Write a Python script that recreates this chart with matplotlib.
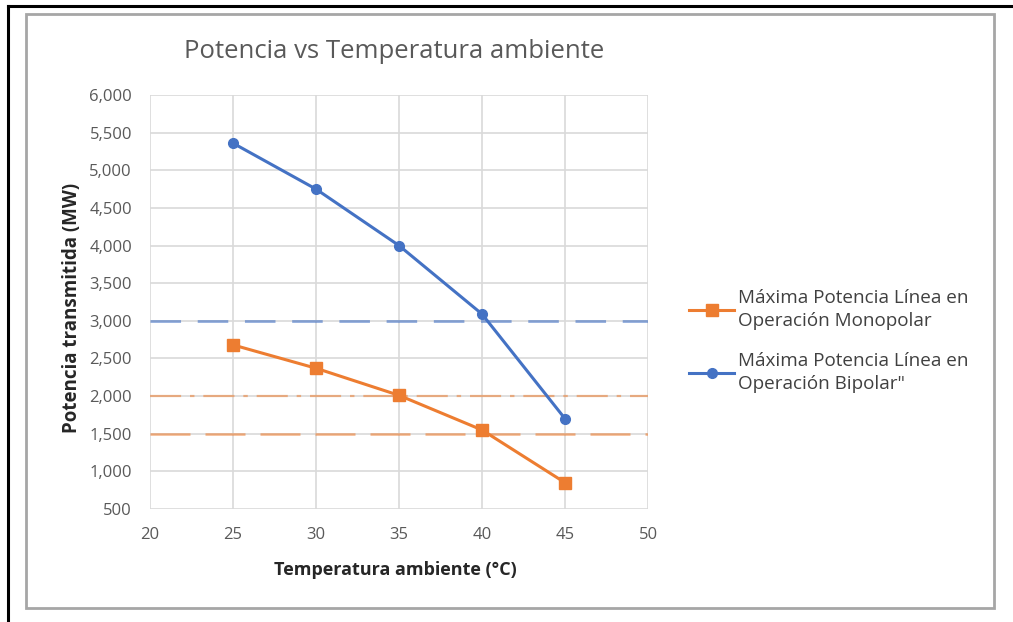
import matplotlib
matplotlib.use("Agg")
import matplotlib.pyplot as plt
from matplotlib.lines import Line2D
from matplotlib.patches import Rectangle

plt.rcParams['font.family'] = ['Open Sans', 'DejaVu Sans']

temps = [25, 30, 35, 40, 45]
monopolar = [2680, 2370, 2010, 1550, 850]
bipolar = [5360, 4750, 4000, 3090, 1700]
ref_bipolar = 3000
ref_mono_dashdot = 2000
ref_mono_dash = 1500

title = "Potencia vs Temperatura ambiente"
xlabel = "Temperatura ambiente (°C)"
ylabel = "Potencia transmitida (MW)"
label_mono = "Máxima Potencia Línea en\nOperación Monopolar"
label_bi = "Máxima Potencia Línea en\nOperación Bipolar\""

xticks = [20, 25, 30, 35, 40, 45, 50]
yticks = [500, 1000, 1500, 2000, 2500, 3000, 3500, 4000, 4500, 5000, 5500, 6000]

orange = "#ED7D31"
blue = "#4472C4"
W, H = 1013, 622
fig = plt.figure(figsize=(W / 100, H / 100), dpi=100)

# page frame lines
fig.add_artist(Line2D([8 / W, 8 / W], [0, 1 - 6 / H], color="black", lw=2.2, transform=fig.transFigure))
fig.add_artist(Line2D([8 / W, 1], [1 - 6 / H, 1 - 6 / H], color="black", lw=2.2, transform=fig.transFigure))
# chart frame
fig.add_artist(Rectangle((26 / W, 1 - 608 / H), (994 - 26) / W, (608 - 14) / H, transform=fig.transFigure,
                         fill=False, edgecolor="#a6a6a6", lw=2.0))

ax = fig.add_axes([150 / W, 1 - 509 / H, 498 / W, 414 / H])
ax.set_xlim(20, 50)
ax.set_ylim(500, 6000)
ax.set_xticks(xticks)
ax.set_yticks(yticks)
ax.set_yticklabels([f"{v:,}" for v in yticks])
ax.grid(True, color="#d9d9d9", lw=1.2)
ax.set_axisbelow(True)
for s in ax.spines.values():
    s.set_visible(False)
ax.tick_params(length=0, labelsize=12, colors="#595959")
ax.tick_params(axis="y", pad=13)
ax.tick_params(axis="x", pad=13)

ax.axhline(ref_bipolar, color=blue, alpha=0.6, lw=2, dashes=(11, 6))
ax.axhline(ref_mono_dashdot, color=orange, alpha=0.55, lw=1.6, dashes=(14, 4, 2, 4))
ax.axhline(ref_mono_dash, color=orange, alpha=0.6, lw=1.8, dashes=(16, 6))

ax.plot(temps, monopolar, color=orange, lw=2.2, marker="s", markersize=9, label=label_mono)
ax.plot(temps, bipolar, color=blue, lw=2.2, marker="o", markersize=7, label=label_bi)

xl = ax.set_xlabel(xlabel, fontsize=13, fontweight="bold", color="#262626")
xl.set_va("center")
ax.xaxis.set_label_coords((395 - 150) / 498, (509 - 570) / 414)
yl = ax.set_ylabel(ylabel, fontsize=13.5, fontweight="bold", color="#262626")
yl.set_va("center")
ax.yaxis.set_label_coords((72 - 150) / 498, (509 - 308) / 414)
fig.text(394 / W, 1 - 52 / H, title, ha="center", va="center", fontsize=18.5, color="#595959")

leg = ax.legend(loc="center left", bbox_to_anchor=(1.083, (509 - 341) / 414), frameon=False, fontsize=13.6,
                handlelength=2.35, labelspacing=1.15, handletextpad=0.2, labelcolor="#404040",
                borderaxespad=0, borderpad=0)
for t in leg.get_texts():
    t.set_linespacing(1.4)

fig.savefig("out.png", dpi=100)
